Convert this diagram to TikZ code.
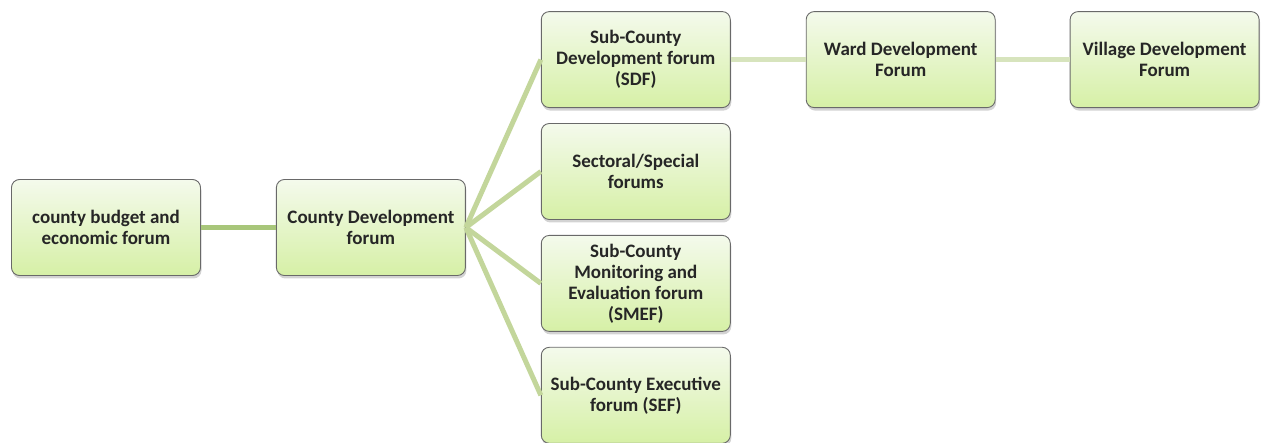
\documentclass[tikz,border=0pt]{standalone}
\usepackage{fontspec}
\setmainfont{Carlito}
\definecolor{forumtop}{RGB}{244, 250, 236}
\definecolor{forumbottom}{RGB}{214, 240, 166}
\definecolor{forumedge}{RGB}{105, 105, 105}
\definecolor{linkgreen}{RGB}{168, 198, 122}
\definecolor{fangreen}{RGB}{195, 214, 155}
\definecolor{palegreen}{RGB}{215, 228, 189}
\usetikzlibrary{positioning, shadows}

\begin{document}
\begin{tikzpicture}[
    forum/.style={draw=forumedge, line width=0.9pt, rounded corners=8pt,
      top color=forumtop, bottom color=forumbottom,
      drop shadow={shadow xshift=1pt, shadow yshift=-3pt, opacity=0.35},
      minimum width=189pt, minimum height=96pt, inner sep=2pt,
      align=center, text=black!85, font=\fontsize{19}{21}\selectfont\bfseries},
    link/.style={line width=5pt}
  ]
  \useasboundingbox (0,0) rectangle (1264pt,-443pt);
  \node[forum] (budget) at (106pt,-227.5pt) {county budget and\\economic forum};
  \node[forum, right=75pt of budget] (cdf) {County Development\\forum};
  \node[forum, right=75pt of cdf, yshift=56pt] (sectoral) {Sectoral/Special\\forums};
  \node[forum, above=15pt of sectoral] (sdf) {Sub-County\\Development forum\\(SDF)};
  \node[forum, below=15pt of sectoral] (smef) {Sub-County\\Monitoring and\\Evaluation forum\\(SMEF)};
  \node[forum, below=15pt of smef] (sef) {Sub-County Executive\\forum (SEF)};
  \node[forum, right=75pt of sdf] (ward) {Ward Development\\Forum};
  \node[forum, right=74pt of ward] (village) {Village Development\\Forum};

  \draw[link, linkgreen] (budget.east) -- (cdf.west);
  \foreach \sub in {sdf, sectoral, smef, sef}
    \draw[link, fangreen] (cdf.east) -- (\sub.west);
  \draw[link, palegreen] (sdf.east) -- (ward.west);
  \draw[link, palegreen] (ward.east) -- (village.west);
\end{tikzpicture}
\end{document}
